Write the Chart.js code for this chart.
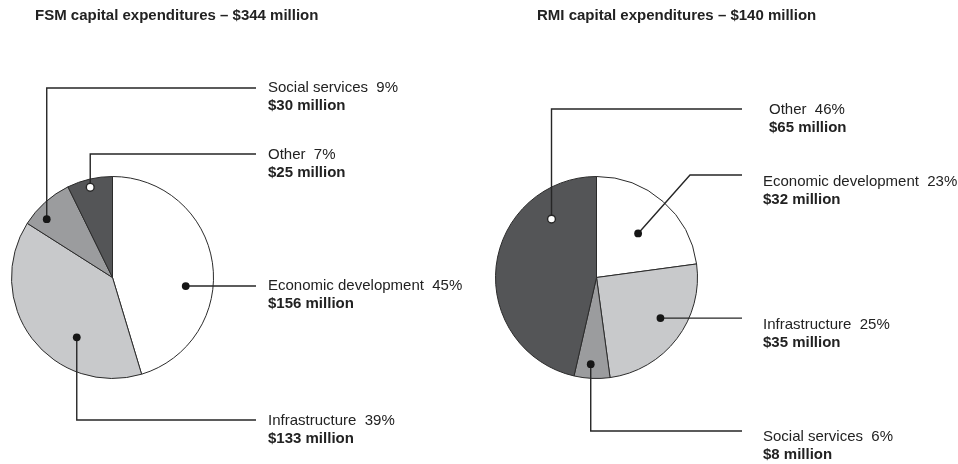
<!DOCTYPE html>
<html>
<head>
<meta charset="utf-8">
<script src="https://cdn.jsdelivr.net/npm/chart.js@4/dist/chart.umd.min.js"></script>
<style>
  html, body { margin: 0; padding: 0; background: #fff; }
  .wrap { position: relative; width: 958px; height: 464px; }
  .wrap canvas { position: absolute; top: 0; }
</style>
</head>
<body>
<div class="wrap">
  <canvas id="fsmChart" width="479" height="464" style="left:0"></canvas>
  <canvas id="rmiChart" width="479" height="464" style="left:479px"></canvas>
</div>
<script>
// Dados
const categories = ['Economic development', 'Infrastructure', 'Social services', 'Other'];
const fsmValues = [156, 133, 30, 25];
const rmiValues = [32, 35, 8, 65];
const chartTitles = ['FSM capital expenditures', 'RMI capital expenditures'];

const sliceColors = ['#ffffff', '#c8c9cb', '#9b9c9e', '#545557'];
const FONT = '"Liberation Sans", Arial, Helvetica, sans-serif';

// Plugin para titulo, linhas de chamada e rótulos
const calloutPlugin = {
    id: 'callouts',
    afterDraw(chart, args, opts) {
        const ctx = chart.ctx;
        const values = chart.data.datasets[0].data;
        const total = values.reduce((a, b) => a + b, 0);
        const arcs = chart.getDatasetMeta(0).data;

        ctx.save();
        ctx.fillStyle = '#222';
        ctx.textBaseline = 'middle';
        ctx.font = 'bold 15px ' + FONT;
        ctx.fillText(opts.title + ' \u2013 $' + total + ' million', opts.titleX, 16);

        opts.labels.forEach((lb, i) => {
            const arc = arcs[i];
            const ang = arc.startAngle + lb.t * (arc.endAngle - arc.startAngle);
            const r = lb.rf * arc.outerRadius;
            const px = arc.x + Math.cos(ang) * r;
            const py = arc.y + Math.sin(ang) * r;

            ctx.strokeStyle = '#262626';
            ctx.lineWidth = 1.4;
            ctx.beginPath();
            ctx.moveTo(px, py);
            if (lb.route === 'v') {
                ctx.lineTo(px, lb.lineY);
                ctx.lineTo(lb.endX, lb.lineY);
            } else if (lb.route === 'diag') {
                ctx.lineTo(lb.elbowX, lb.lineY);
                ctx.lineTo(lb.endX, lb.lineY);
            } else {
                ctx.lineTo(lb.endX, py);
            }
            ctx.stroke();

            ctx.beginPath();
            ctx.arc(px, py, 3.9, 0, Math.PI * 2);
            if (lb.hollow) {
                ctx.fillStyle = '#fff';
                ctx.fill();
                ctx.lineWidth = 1.4;
                ctx.stroke();
            } else {
                ctx.fillStyle = '#161616';
                ctx.fill();
            }

            const pct = Math.round(values[i] / total * 100);
            ctx.fillStyle = '#222';
            ctx.font = '15px ' + FONT;
            ctx.fillText(chart.data.labels[i] + '  ' + pct + '%', lb.textX, lb.textY);
            ctx.font = 'bold 15px ' + FONT;
            ctx.fillText('$' + values[i] + ' million', lb.textX, lb.textY + 18);
        });
        ctx.restore();
    }
};

function makePie(id, values, padding, callouts) {
    const ctx = document.getElementById(id).getContext('2d');
    return new Chart(ctx, {
        type: 'pie',
        data: {
            labels: categories,
            datasets: [{
                data: values,
                backgroundColor: sliceColors,
                borderColor: '#2b2b2b',
                borderWidth: 1
            }]
        },
        options: {
            responsive: false,
            animation: false,
            devicePixelRatio: 1,
            layout: { padding: padding },
            plugins: {
                legend: { display: false },
                tooltip: { enabled: false },
                callouts: callouts
            }
        },
        plugins: [calloutPlugin]
    });
}

makePie('fsmChart', fsmValues,
    { left: 11, right: 265, top: 176, bottom: 85 },
    {
        title: chartTitles[0], titleX: 35,
        labels: [
            { t: 0.592, rf: 0.73, route: 'h', endX: 256, textX: 268, textY: 286 },
            { t: 0.342, rf: 0.69, route: 'v', lineY: 420, endX: 256, textX: 268, textY: 421 },
            { t: 0.29, rf: 0.87, route: 'v', lineY: 88, endX: 256, textX: 268, textY: 88 },
            { t: 0.47, rf: 0.92, route: 'v', lineY: 154, endX: 256, textX: 268, textY: 155, hollow: true }
        ]
    });

makePie('rmiChart', rmiValues,
    { left: 16, right: 260, top: 176, bottom: 85 },
    {
        title: chartTitles[1], titleX: 58,
        labels: [
            { t: 0.527, rf: 0.60, route: 'diag', elbowX: 211, lineY: 175, endX: 263, textX: 284, textY: 182 },
            { t: 0.446, rf: 0.75, route: 'h', endX: 263, textX: 284, textY: 325 },
            { t: 0.56, rf: 0.86, route: 'v', lineY: 431, endX: 263, textX: 284, textY: 437 },
            { t: 0.775, rf: 0.73, route: 'v', lineY: 109, endX: 263, textX: 290, textY: 110, hollow: true }
        ]
    });
</script>
</body>
</html>
